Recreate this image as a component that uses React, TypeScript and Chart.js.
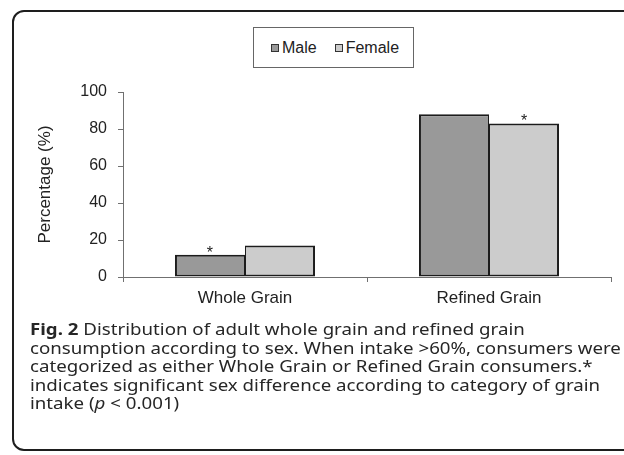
import React, { useEffect, useRef } from "react";
import { Chart, registerables } from "chart.js";

Chart.register(...registerables);

const categories = ["Whole Grain", "Refined Grain"];
const seriesNames = ["Male", "Female"];
const maleValues = [12, 88];
const femaleValues = [17, 83];
const maleSignificant = [true, false];
const femaleSignificant = [false, true];
const yTicks = [0, 20, 40, 60, 80, 100];
const yTitle = "Percentage (%)";

const FONT = "'Liberation Sans', Arial, Helvetica, sans-serif";
const TEXT = "#222222";
const AXIS = "#707070";

const asteriskPlugin = {
  id: "asterisks",
  afterDatasetsDraw(chart: any) {
    const flags = [maleSignificant, femaleSignificant];
    const ctx = chart.ctx;
    ctx.save();
    ctx.font = `16px ${FONT}`;
    ctx.fillStyle = TEXT;
    ctx.textAlign = "center";
    ctx.textBaseline = "alphabetic";
    chart.data.datasets.forEach((_ds: any, di: number) => {
      const meta = chart.getDatasetMeta(di);
      meta.data.forEach((bar: any, i: number) => {
        if (flags[di] && flags[di][i]) ctx.fillText("*", bar.x, bar.y + 3);
      });
    });
    ctx.restore();
  },
};

function Legend() {
  const items = [
    { label: seriesNames[0], fill: "#999999" },
    { label: seriesNames[1], fill: "#cccccc" },
  ];
  return (
    <div
      style={{
        position: "absolute",
        left: 253,
        top: 27,
        width: 161,
        height: 41,
        border: "1px solid #666",
        background: "#fff",
        display: "flex",
        alignItems: "center",
        paddingLeft: 17,
        boxSizing: "border-box",
        fontFamily: FONT,
        fontSize: 16,
        color: TEXT,
      }}
    >
      {items.map((it, i) => (
        <div
          key={i}
          style={{ display: "flex", alignItems: "center", marginRight: i === 0 ? 18 : 0 }}
        >
          <span
            style={{
              display: "inline-block",
              width: 6,
              height: 6,
              border: "1.5px solid #333",
              background: it.fill,
              marginRight: 3,
            }}
          />
          <span style={{ lineHeight: "18px" }}>{it.label}</span>
        </div>
      ))}
    </div>
  );
}

export default function App() {
  const canvasRef = useRef<HTMLCanvasElement | null>(null);

  useEffect(() => {
    const canvas = canvasRef.current;
    if (!canvas) return;
    const chart = new Chart(canvas, {
      type: "bar",
      data: {
        labels: categories,
        datasets: [
          {
            label: seriesNames[0],
            data: maleValues,
            backgroundColor: "#999999",
            borderColor: "#1c1c1c",
            borderWidth: { left: 2, right: 1, top: 2, bottom: 2 },
            borderSkipped: false,
            categoryPercentage: 0.574,
            barPercentage: 1.0,
          },
          {
            label: seriesNames[1],
            data: femaleValues,
            backgroundColor: "#cccccc",
            borderColor: "#1c1c1c",
            borderWidth: { left: 1, right: 2, top: 2, bottom: 2 },
            borderSkipped: false,
            categoryPercentage: 0.574,
            barPercentage: 1.0,
          },
        ],
      },
      options: {
        responsive: false,
        animation: false,
        devicePixelRatio: 1,
        layout: { padding: { left: 0, top: 92, right: 13, bottom: 146 } },
        plugins: {
          legend: { display: false },
          tooltip: { enabled: false },
          title: { display: false },
        },
        scales: {
          x: {
            grid: {
              display: true,
              drawOnChartArea: false,
              drawTicks: true,
              tickLength: 5,
              color: AXIS,
              offset: true,
            },
            border: { display: true, color: AXIS, width: 1 },
            ticks: {
              color: TEXT,
              font: { family: FONT, size: 17 },
              padding: 6,
              maxRotation: 0,
            },
            afterFit: (s: any) => {
              s.height = 32;
            },
          },
          y: {
            min: 0,
            max: 100,
            grid: {
              display: true,
              drawOnChartArea: false,
              drawTicks: true,
              tickLength: 5,
              color: AXIS,
            },
            border: { display: true, color: AXIS, width: 1 },
            ticks: {
              color: TEXT,
              font: { family: FONT, size: 16 },
              padding: 11,
            },
            afterBuildTicks: (s: any) => {
              s.ticks = yTicks.map((v) => ({ value: v }));
            },
            title: {
              display: true,
              text: yTitle,
              color: TEXT,
              font: { family: FONT, size: 17 },
              padding: { top: 35, bottom: 0 },
            },
            afterFit: (s: any) => {
              s.width = 123;
            },
          },
        },
      },
      plugins: [asteriskPlugin],
    });
    return () => chart.destroy();
  }, []);

  return (
    <div
      style={{
        position: "absolute",
        left: 0,
        top: 0,
        width: 624,
        height: 455,
        overflow: "hidden",
        background: "#fff",
      }}
    >
      <div
        style={{
          position: "absolute",
          left: 12,
          top: 10,
          width: 700,
          height: 437,
          border: "2px solid #1e1e1e",
          borderRadius: 12,
        }}
      />
      <canvas
        ref={canvasRef}
        width={624}
        height={455}
        style={{ position: "absolute", left: 0, top: 0 }}
      />
      <Legend />
      <div
        style={{
          position: "absolute",
          left: 30,
          top: 320,
          fontFamily: "'Noto Sans', 'Open Sans', sans-serif",
          fontSize: 16.4,
          lineHeight: "18.5px",
          color: "#262626",
          whiteSpace: "nowrap",
          transform: "scaleX(1.14)",
          transformOrigin: "0 0",
        }}
      >
        <b>Fig. 2</b> Distribution of adult whole grain and refined grain
        <br />
        consumption according to sex. When intake &gt;60%, consumers were
        <br />
        categorized as either Whole Grain or Refined Grain consumers.*
        <br />
        indicates significant sex difference according to category of grain
        <br />
        intake (<i>p</i> &lt; 0.001)
      </div>
    </div>
  );
}
